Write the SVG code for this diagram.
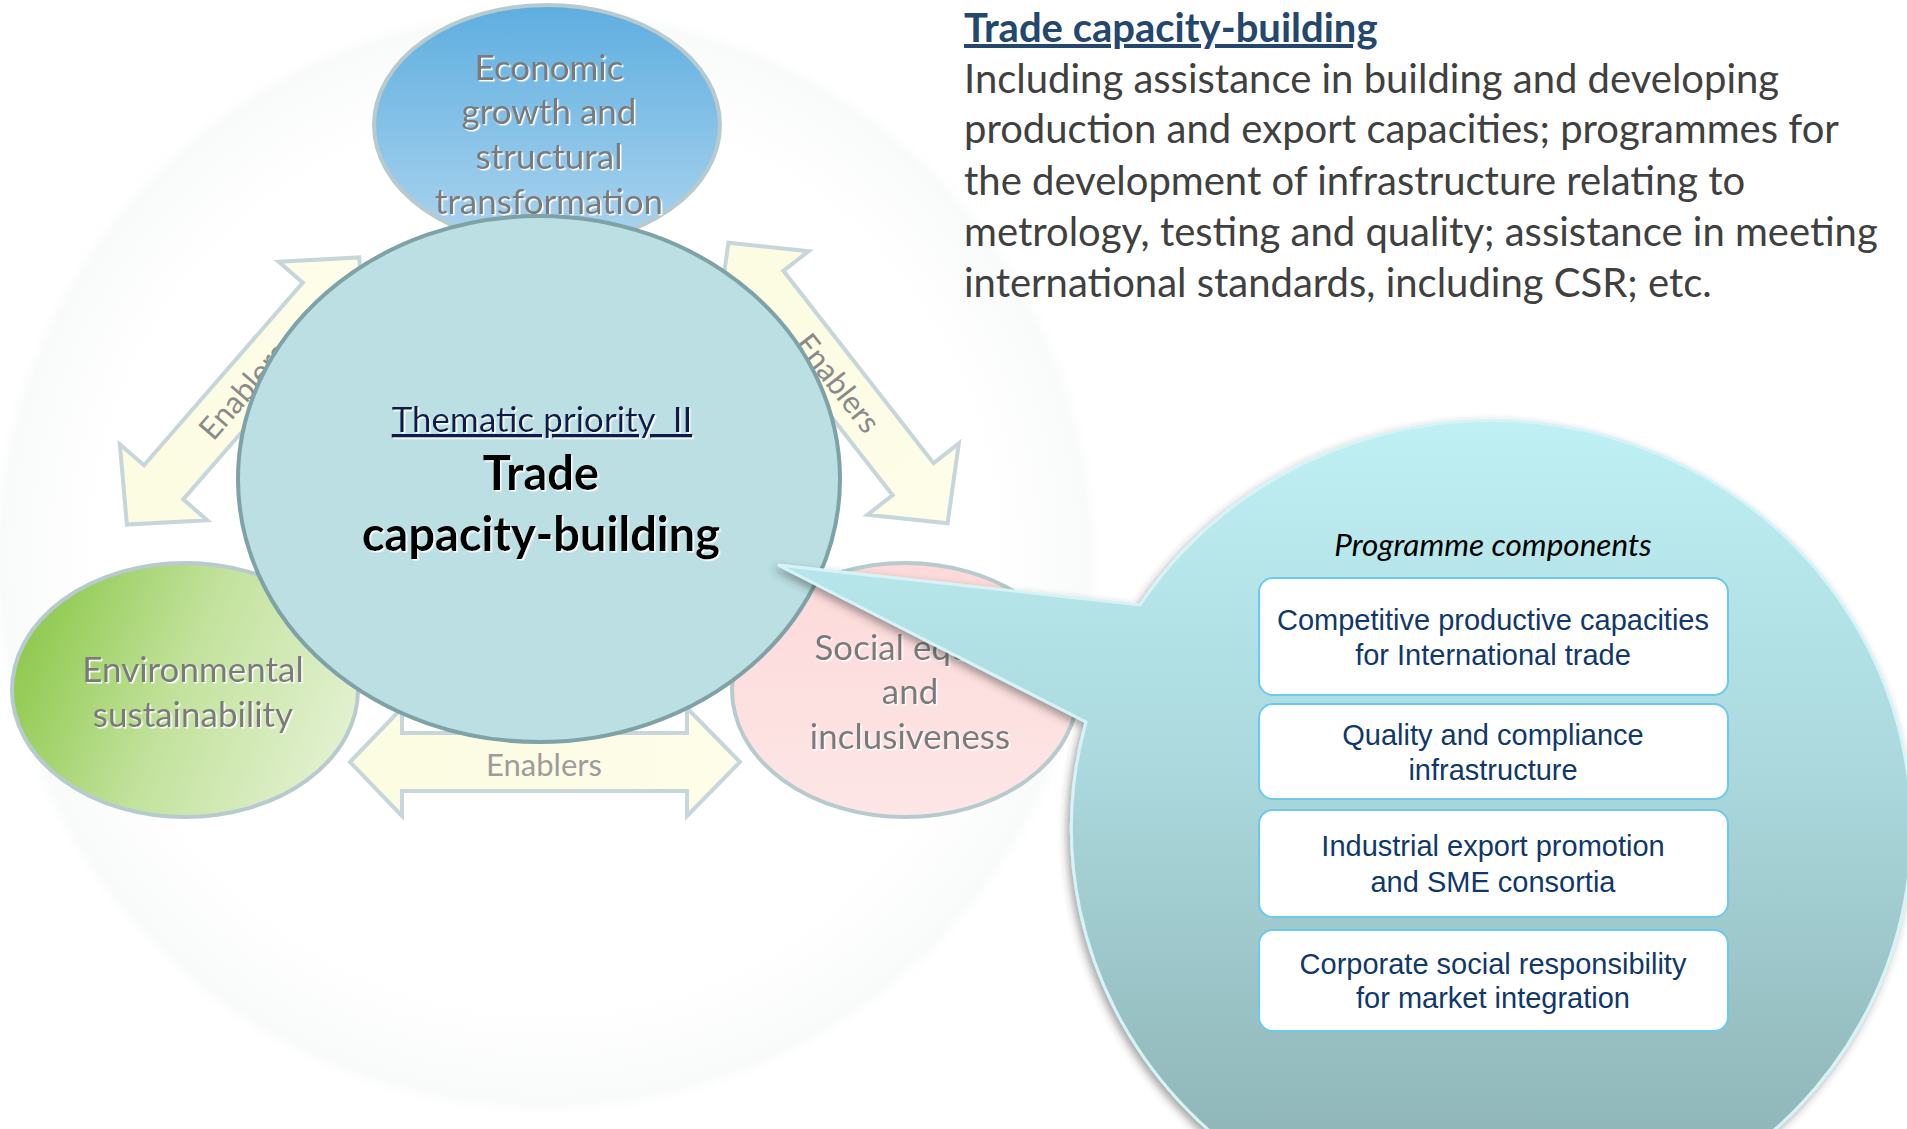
<svg xmlns="http://www.w3.org/2000/svg" width="1907" height="1129" viewBox="0 0 1907 1129">
  <defs>
    <radialGradient id="bgGlow" cx="0.5" cy="0.5" r="0.5">
      <stop offset="0" stop-color="#ffffff"/>
      <stop offset="0.8" stop-color="#ffffff"/>
      <stop offset="0.97" stop-color="#f9fafa"/>
      <stop offset="1" stop-color="#ffffff" stop-opacity="0"/>
    </radialGradient>
    <linearGradient id="blueFill" x1="0" y1="0" x2="0" y2="1">
      <stop offset="0" stop-color="#5eaee0"/>
      <stop offset="1" stop-color="#acd4ee"/>
    </linearGradient>
    <linearGradient id="greenFill" x1="0" y1="0.3" x2="1" y2="0.6">
      <stop offset="0" stop-color="#8cc84a"/>
      <stop offset="0.5" stop-color="#c3e29d"/>
      <stop offset="1" stop-color="#e2f1d0"/>
    </linearGradient>
    <linearGradient id="pinkFill" x1="0" y1="0" x2="0" y2="1">
      <stop offset="0" stop-color="#fdd9d9"/>
      <stop offset="1" stop-color="#fde6e6"/>
    </linearGradient>
    <linearGradient id="arrowFill" x1="0" y1="0" x2="1" y2="0">
      <stop offset="0" stop-color="#fcfce2"/>
      <stop offset="1" stop-color="#fdfde9"/>
    </linearGradient>
    <linearGradient id="calloutFill" gradientUnits="userSpaceOnUse" x1="0" y1="420" x2="0" y2="1180">
      <stop offset="0" stop-color="#bff0f4"/>
      <stop offset="0.45" stop-color="#abd9dd"/>
      <stop offset="1" stop-color="#8db2b5"/>
    </linearGradient>
    <filter id="whiteGlow" x="-10%" y="-20%" width="120%" height="140%">
      <feDropShadow dx="1.5" dy="1.5" stdDeviation="0.6" flood-color="#ffffff" flood-opacity="1"/>
    </filter>
    <filter id="calloutShadow" x="-10%" y="-10%" width="120%" height="120%">
      <feDropShadow dx="-3" dy="4" stdDeviation="4" flood-color="#333333" flood-opacity="0.45"/>
    </filter>
    <style>
      .outer { stroke: #b7cbcf; stroke-width: 4; }
      .lbl { font-family: Lato, "Open Sans", sans-serif; font-size: 35px; fill: #7a7a7a; text-anchor: middle; }
      .arrow { fill: url(#arrowFill); stroke: #c6d6da; stroke-width: 4; stroke-linejoin: miter; }
      .enab { font-family: Lato, "Open Sans", sans-serif; font-size: 31px; fill: #8a8a8a; text-anchor: middle; }
      .box { fill: #ffffff; stroke: #6cc9ee; stroke-width: 2; }
      .btxt { font-family: "Liberation Sans", Arial, sans-serif; font-size: 29px; fill: #10386b; text-anchor: middle; }
      .body { font-family: Lato, "Open Sans", sans-serif; font-size: 40px; fill: #404040; }
    </style>
  </defs>

  <rect width="1907" height="1129" fill="#ffffff"/>
  <circle cx="545" cy="560" r="560" fill="url(#bgGlow)"/>

  <g id="node-economic">
    <ellipse cx="547" cy="125" rx="173" ry="120" fill="url(#blueFill)" class="outer"/>
    <text class="lbl" filter="url(#whiteGlow)"><tspan x="549" y="80">Economic</tspan><tspan x="549" y="124">growth and</tspan><tspan x="549" y="169">structural</tspan><tspan x="549" y="214">transformation</tspan></text>
  </g>

  <g id="node-environment">
    <ellipse cx="185" cy="690" rx="173" ry="127" fill="url(#greenFill)" class="outer"/>
    <text class="lbl" filter="url(#whiteGlow)"><tspan x="193" y="682">Environmental</tspan><tspan x="193" y="727">sustainability</tspan></text>
  </g>

  <g id="node-social">
    <ellipse cx="905" cy="690" rx="173" ry="127" fill="url(#pinkFill)" class="outer"/>
    <text class="lbl" filter="url(#whiteGlow)"><tspan x="912" y="660">Social equity</tspan><tspan x="910" y="704">and</tspan><tspan x="910" y="749">inclusiveness</tspan></text>
  </g>

  <g id="connectors">
    <g transform="translate(243,391) rotate(-49)">
      <path class="arrow" d="M-177,0 L-121,-58 L-121,-26 L121,-26 L121,-58 L177,0 L121,58 L121,26 L-121,26 L-121,58 Z"/>
      <text class="enab" x="0" y="11">Enablers</text>
    </g>
    <g transform="translate(838,383) rotate(52)">
      <path class="arrow" d="M-178,0 L-122,-58 L-122,-26 L122,-26 L122,-58 L178,0 L122,58 L122,26 L-122,26 L-122,58 Z"/>
      <text class="enab" x="0" y="11">Enablers</text>
    </g>
    <g>
      <path class="arrow" d="M350,762 L402,708 L402,733 L687,733 L687,708 L740,762 L687,816 L687,791 L402,791 L402,816 Z"/>
      <text class="enab" x="544" y="776" style="fill:#9c9c9c">Enablers</text>
    </g>
  </g>

  <g id="node-center">
    <ellipse cx="539" cy="479" rx="301" ry="263" fill="#bbdfe3" stroke="#7ea2a6" stroke-width="4"/>
    <text x="542" y="432" xml:space="preserve" font-family="Lato, 'Open Sans', sans-serif" font-size="35" fill="#0c1a4c" text-anchor="middle" text-decoration="underline" filter="url(#whiteGlow)">Thematic priority  II</text>
    <text font-family="Lato, 'Open Sans', sans-serif" font-size="47" font-weight="bold" fill="#000000" text-anchor="middle" filter="url(#whiteGlow)"><tspan x="541" y="490">Trade</tspan><tspan x="541" y="551">capacity-building</tspan></text>
  </g>

  <g id="node-callout">
    <path d="M778,565 L1140,605 A420,408 0 1 1 1086,722 Z" fill="url(#calloutFill)" stroke="#d6f4f7" stroke-width="3" filter="url(#calloutShadow)"/>
    <text x="1493" y="556" font-family="Lato, 'Open Sans', sans-serif" font-size="31.5" font-style="italic" fill="#000000" text-anchor="middle">Programme components</text>
  </g>

  <g id="box-1">
    <rect class="box" x="1259" y="578" width="469" height="117" rx="14"/>
    <text class="btxt"><tspan x="1493" y="630">Competitive productive capacities</tspan><tspan x="1493" y="665">for International trade</tspan></text>
  </g>
  <g id="box-2">
    <rect class="box" x="1259" y="704" width="469" height="95" rx="14"/>
    <text class="btxt"><tspan x="1493" y="745">Quality and compliance</tspan><tspan x="1493" y="780">infrastructure</tspan></text>
  </g>
  <g id="box-3">
    <rect class="box" x="1259" y="810" width="469" height="107" rx="14"/>
    <text class="btxt"><tspan x="1493" y="856">Industrial export promotion</tspan><tspan x="1493" y="892">and SME consortia</tspan></text>
  </g>
  <g id="box-4">
    <rect class="box" x="1259" y="930" width="469" height="101" rx="14"/>
    <text class="btxt"><tspan x="1493" y="974">Corporate social responsibility</tspan><tspan x="1493" y="1008">for market integration</tspan></text>
  </g>

  <g id="description">
    <text x="964" y="42" font-family="Lato, 'Open Sans', sans-serif" font-size="40" font-weight="bold" fill="#24476d" text-decoration="underline">Trade capacity-building</text>
    <text class="body"><tspan x="964" y="93">Including assistance in building and developing</tspan><tspan x="964" y="143">production and export capacities; programmes for</tspan><tspan x="964" y="195">the development of infrastructure relating to</tspan><tspan x="964" y="246">metrology, testing and quality; assistance in meeting</tspan><tspan x="964" y="297">international standards, including CSR; etc.</tspan></text>
  </g>
</svg>
